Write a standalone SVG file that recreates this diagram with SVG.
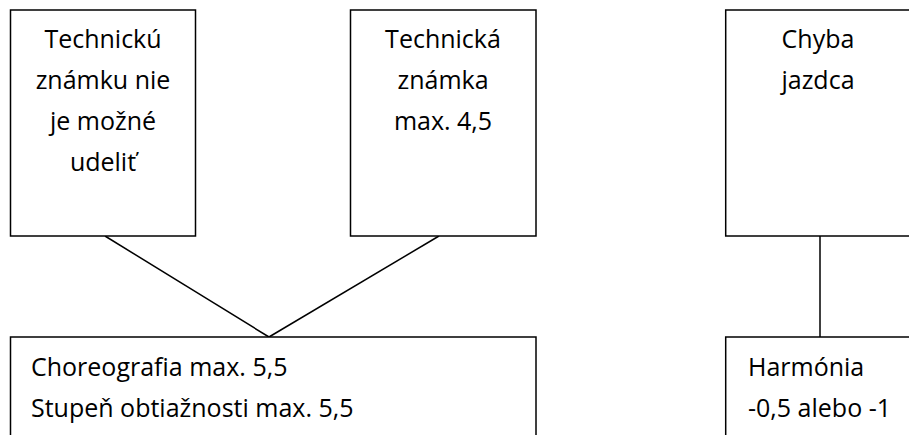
<svg xmlns="http://www.w3.org/2000/svg" width="909" height="435" viewBox="0 0 909 435">
<style>
.box{fill:#fff;stroke:#000;stroke-width:1.5}
.t{font-family:"Open Sans","Liberation Sans",sans-serif;font-size:25px;fill:#000}
.c{text-anchor:middle}
.ln{stroke:#000;stroke-width:1.5;fill:none}
</style>
<rect width="909" height="435" fill="#fff"/>
<g id="connectors">
<line class="ln" x1="105" y1="236" x2="269" y2="337"/>
<line class="ln" x1="439" y1="236" x2="269" y2="337"/>
<line class="ln" x1="820" y1="236" x2="820" y2="337"/>
</g>
<g id="node-technicku">
<rect class="box" x="10.5" y="10" width="185" height="226"/>
<text class="t c" x="103" y="48">Technickú</text>
<text class="t c" x="103" y="89">známku nie</text>
<text class="t c" x="103" y="130">je možné</text>
<text class="t c" x="103" y="171">udeliť</text>
</g>
<g id="node-technicka">
<rect class="box" x="350.5" y="10" width="185.5" height="226"/>
<text class="t c" x="443" y="48">Technická</text>
<text class="t c" x="443" y="89">známka</text>
<text class="t c" x="443" y="130">max. 4,5</text>
</g>
<g id="node-chyba">
<rect class="box" x="725.7" y="10" width="186" height="226"/>
<text class="t c" x="818" y="48">Chyba</text>
<text class="t c" x="818" y="89">jazdca</text>
</g>
<g id="node-choreografia">
<rect class="box" x="10.5" y="337" width="525.5" height="110"/>
<text class="t" x="31" y="376">Choreografia max. 5,5</text>
<text class="t" x="31" y="416.5">Stupeň obtiažnosti max. 5,5</text>
</g>
<g id="node-harmonia">
<rect class="box" x="725.7" y="337" width="186" height="110"/>
<text class="t" x="748" y="376">Harmónia</text>
<text class="t" x="748" y="416.5">-0,5 alebo -1</text>
</g>
</svg>
